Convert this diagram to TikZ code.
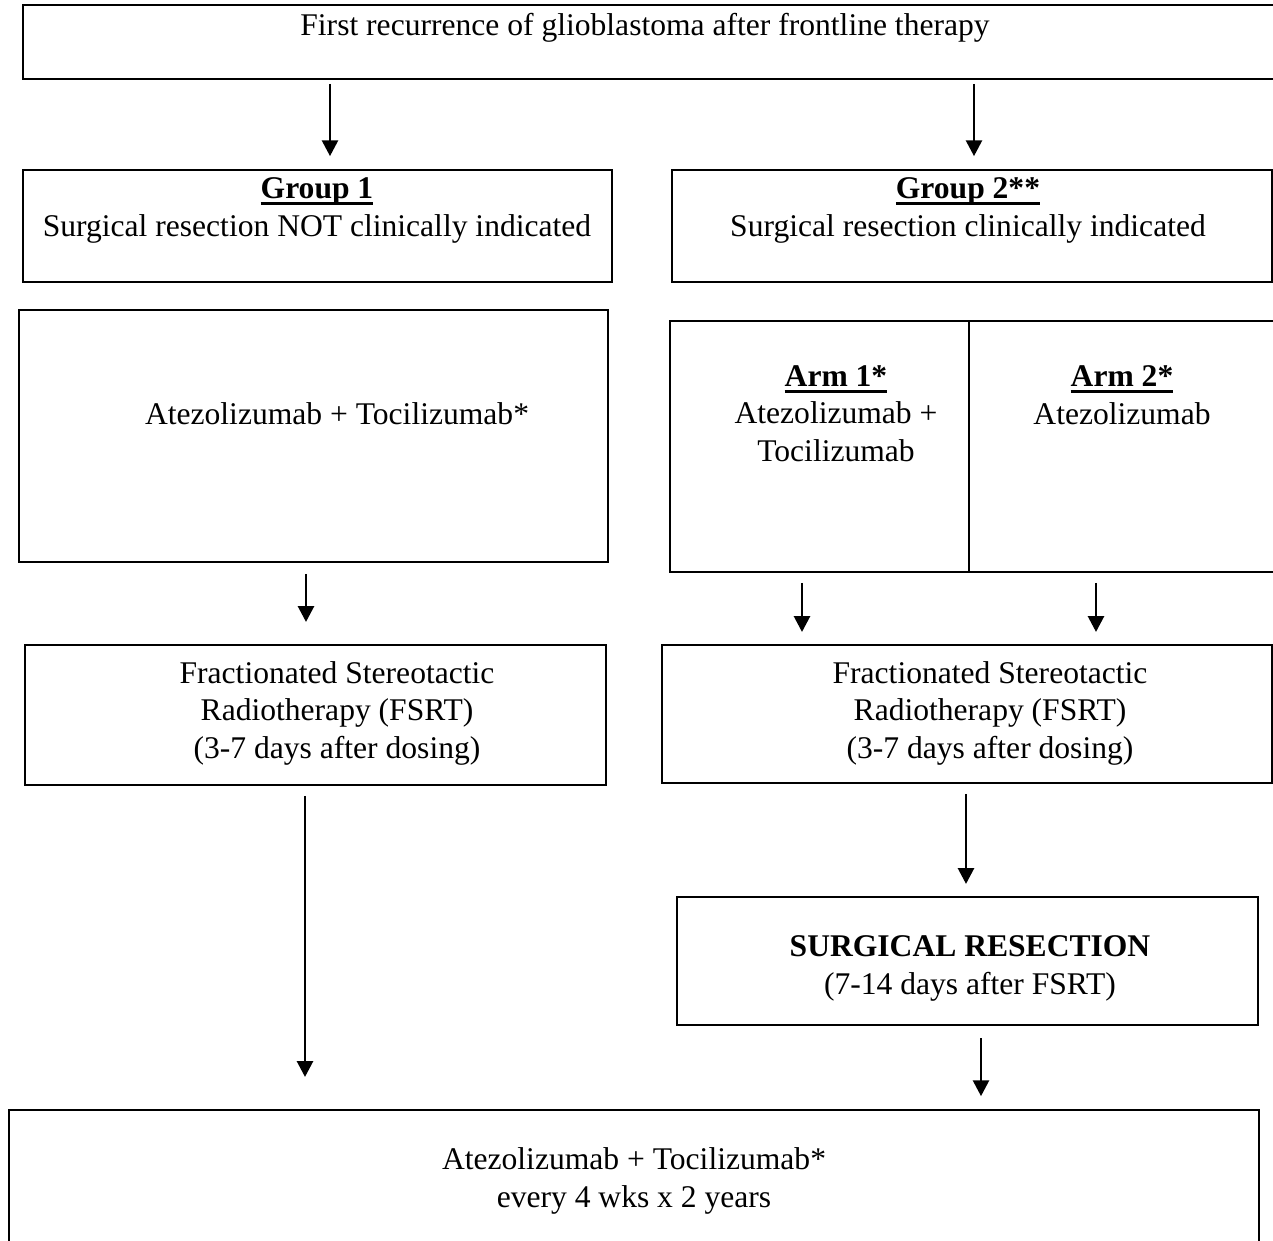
\documentclass[tikz,border=0pt]{standalone}
\usepackage{fontspec}
\setmainfont{Liberation Serif}
\usetikzlibrary{fit,arrows.meta}
\newcommand{\headul}[1]{\setbox0\hbox{\textbf{#1}}\rlap{\raisebox{-2.4pt}{\rule{\wd0}{1.2pt}}}\box0}

\begin{document}
\begin{tikzpicture}[x=0.38pt,y=-0.38pt,
  box/.style={draw, line width=0.7pt, inner sep=0pt},
  txt/.style={anchor=base, align=center, font=\fontsize{12}{14.1}\selectfont},
  arr/.style={line width=1.1pt, -{Triangle[length=6pt,width=6pt]}}]
\clip (0,0) rectangle (1273,1240);
% boxes
\node[box, fit={(23,5) (1290,79)}] (first) {};
\node[box, fit={(23,170) (612,282)}] (g1) {};
\node[box, fit={(672,170) (1272,282)}] (g2) {};
\node[box, fit={(19,310) (608,562)}] (atz1) {};
\node[box, fit={(670,321) (969,572)}] (arm1) {};
\node[box, fit={(969,321) (1290,572)}] (arm2) {};
\node[box, fit={(25,645) (606,785)}] (fsrt1) {};
\node[box, fit={(662,645) (1272,783)}] (fsrt2) {};
\node[box, fit={(677,897) (1258,1025)}] (surg) {};
\node[box, fit={(9,1110) (1259,1260)}] (final) {};
% texts (base = last line)
\node[txt] (firsttxt) at (645,35) {First recurrence of glioblastoma after frontline therapy};
\node[txt] (g1txt) at (317,236) {\headul{Group 1}\\Surgical resection NOT clinically indicated};
\node[txt] (g2txt) at (968,236) {\headul{Group 2**}\\Surgical resection clinically indicated};
\node[txt] (atz1txt) at (337,424) {Atezolizumab + Tocilizumab*};
\node[txt] (arm1txt) at (836,461) {\headul{Arm 1*}\\Atezolizumab +\\Tocilizumab};
\node[txt] (arm2txt) at (1122,424) {\headul{Arm 2*}\\Atezolizumab};
\node[txt] (fsrt1txt) at (337,758) {Fractionated Stereotactic\\Radiotherapy (FSRT)\\(3-7 days after dosing)};
\node[txt] (fsrt2txt) at (990,758) {Fractionated Stereotactic\\Radiotherapy (FSRT)\\(3-7 days after dosing)};
\node[txt] (surgtxt) at (970,994) {\textbf{SURGICAL RESECTION}\\(7-14 days after FSRT)};
\node[txt] (finaltxt) at (634,1207) {Atezolizumab + Tocilizumab*\\every 4 wks x 2 years};
% arrows
\coordinate (x1) at (330,0);
\coordinate (x2) at (974,0);
\coordinate (x3) at (306,0);
\coordinate (x4) at (802,0);
\coordinate (x5) at (1096,0);
\coordinate (x6) at (305,0);
\coordinate (x7) at (966,0);
\coordinate (x8) at (981,0);
\draw[arr, shorten <=1.5pt, shorten >=4.9pt] (x1 |- first.south) -- (x1 |- g1.north);
\draw[arr, shorten <=1.5pt, shorten >=4.9pt] (x2 |- first.south) -- (x2 |- g2.north);
\draw[arr, shorten <=4.2pt, shorten >=8.4pt] (x3 |- atz1.south) -- (x3 |- fsrt1.north);
\draw[arr, shorten <=3.8pt, shorten >=4.6pt] (x4 |- arm1.south) -- (x4 |- fsrt2.north);
\draw[arr, shorten <=3.8pt, shorten >=4.6pt] (x5 |- arm2.south) -- (x5 |- fsrt2.north);
\draw[arr, shorten <=3.8pt, shorten >=12.2pt] (x6 |- fsrt1.south) -- (x6 |- final.north);
\draw[arr, shorten <=3.8pt, shorten >=4.6pt] (x7 |- fsrt2.south) -- (x7 |- surg.north);
\draw[arr, shorten <=4.6pt, shorten >=4.9pt] (x8 |- surg.south) -- (x8 |- final.north);
\end{tikzpicture}
\end{document}
